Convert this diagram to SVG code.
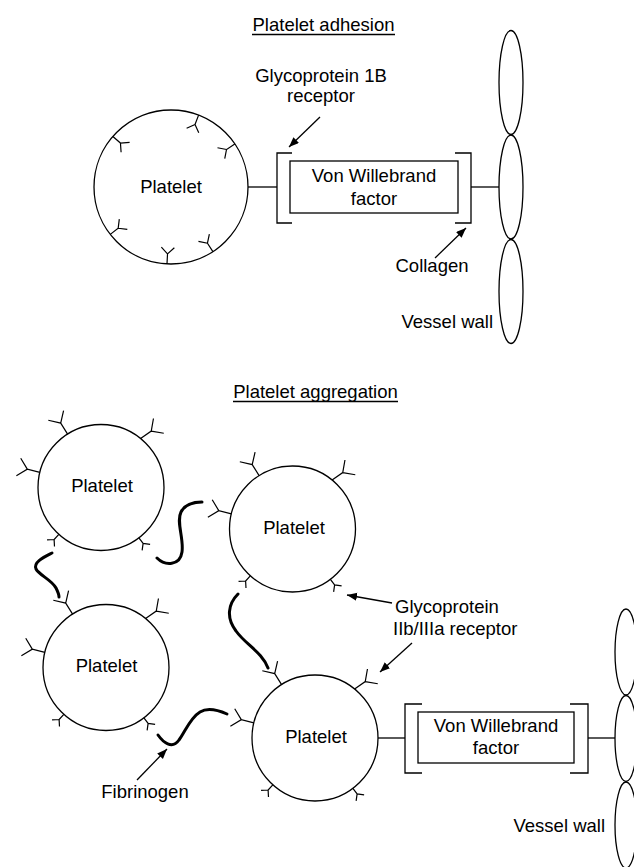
<svg xmlns="http://www.w3.org/2000/svg" xmlns:xlink="http://www.w3.org/1999/xlink" width="634" height="867" viewBox="0 0 634 867">
  <style>
    .ln { fill: none; stroke: #000; stroke-width: 1.3; }
    .cell { fill: #fff; stroke: #000; stroke-width: 1.3; }
    .fib { fill: none; stroke: #000; stroke-width: 3; stroke-linecap: round; }
    .rc { fill: none; stroke: #000; stroke-width: 1.2; }
    .lbl { font-family: "Liberation Sans", Arial, sans-serif; font-size: 18.5px; fill: #000; }
    .mid { text-anchor: middle; }
    .end { text-anchor: end; }
  </style>
  <defs>
    <marker id="ah" markerUnits="userSpaceOnUse" markerWidth="12" markerHeight="10" refX="10" refY="4" orient="auto">
      <path d="M0,0 L10,4 L0,8 Z" fill="#000"/>
    </marker>
    <!-- receptor glyphs: stem along -y, fork at the tip -->
    <path id="rcL" class="rc" d="M0,0 V-13 L-9,-22 M0,-13 L9,-22"/>
    <path id="rcM" class="rc" d="M0,0 V-10 L-6.5,-16.5 M0,-10 L6.5,-16.5"/>
    <path id="rcS" class="rc" d="M0,0 V-7 L-5,-12 M0,-7 L5,-12"/>
  </defs>

  <!-- ===== Platelet adhesion ===== -->
  <g id="title-adhesion">
    <text class="lbl mid" x="323.5" y="31">Platelet adhesion</text>
    <line class="ln" x1="252" y1="34.5" x2="395" y2="34.5"/>
  </g>

  <g id="platelet-a">
    <circle class="cell" cx="171" cy="187" r="77"/>
    <use href="#rcM" transform="translate(198.6,115.1) rotate(-159)"/>
    <use href="#rcM" transform="translate(112.9,136.5) rotate(131)"/>
    <use href="#rcM" transform="translate(234.8,143.9) rotate(-124)"/>
    <use href="#rcM" transform="translate(110.3,234.4) rotate(52)"/>
    <use href="#rcM" transform="translate(167,263.9) rotate(3)"/>
    <use href="#rcM" transform="translate(212.9,251.6) rotate(-33)"/>
    <text class="lbl mid" x="171" y="193">Platelet</text>
  </g>

  <g id="vwf-a">
    <path class="ln" d="M292,153 H277 V223 H292"/>
    <path class="ln" d="M455,153 H471 V223 H455"/>
    <rect class="cell" x="290" y="161" width="168" height="52"/>
    <text class="lbl mid" x="374" y="182">Von Willebrand</text>
    <text class="lbl mid" x="374" y="205">factor</text>
  </g>

  <g id="vessel-a">
    <ellipse class="ln" cx="511" cy="82.5" rx="12" ry="52"/>
    <ellipse class="ln" cx="511" cy="187" rx="12" ry="52"/>
    <ellipse class="ln" cx="511" cy="291.5" rx="12" ry="52"/>
    <text class="lbl end" x="493" y="328">Vessel wall</text>
  </g>

  <g id="label-gp1b">
    <text class="lbl mid" x="321" y="82">Glycoprotein 1B</text>
    <text class="lbl mid" x="321" y="102">receptor</text>
  </g>
  <g id="label-collagen">
    <text class="lbl mid" x="432" y="272">Collagen</text>
  </g>

  <g id="connectors-a">
    <line class="ln" x1="248" y1="187" x2="277" y2="187"/>
    <line class="ln" x1="471" y1="187" x2="499" y2="187"/>
    <line class="ln" x1="320" y1="117" x2="289" y2="147" marker-end="url(#ah)"/>
    <line class="ln" x1="435" y1="258" x2="466" y2="228" marker-end="url(#ah)"/>
  </g>

  <!-- ===== Platelet aggregation ===== -->
  <g id="title-aggregation">
    <text class="lbl mid" x="315.5" y="398">Platelet aggregation</text>
    <line class="ln" x1="233" y1="401.5" x2="398" y2="401.5"/>
  </g>

  <g id="platelet-1">
    <circle class="cell" cx="101" cy="487.5" r="63"/>
    <use href="#rcL" transform="translate(67.6,434.1) rotate(-32)"/>
    <use href="#rcL" transform="translate(140.6,438.5) rotate(55)"/>
    <use href="#rcL" transform="translate(39.9,472.3) rotate(-76)"/>
    <use href="#rcS" transform="translate(58.8,534.3) rotate(222)"/>
    <use href="#rcS" transform="translate(138.9,537.8) rotate(143)"/>
    <text class="lbl mid" x="102" y="492">Platelet</text>
  </g>

  <g id="platelet-2">
    <circle class="cell" cx="292.5" cy="529" r="63"/>
    <use href="#rcL" transform="translate(259.1,475.6) rotate(-32)"/>
    <use href="#rcL" transform="translate(332.1,480) rotate(55)"/>
    <use href="#rcL" transform="translate(231.4,513.8) rotate(-76)"/>
    <use href="#rcS" transform="translate(250.3,575.8) rotate(222)"/>
    <use href="#rcS" transform="translate(330.4,579.3) rotate(143)"/>
    <text class="lbl mid" x="294" y="534">Platelet</text>
  </g>

  <g id="platelet-3">
    <circle class="cell" cx="106" cy="667.5" r="63"/>
    <use href="#rcL" transform="translate(72.6,614.1) rotate(-32)"/>
    <use href="#rcL" transform="translate(145.6,618.5) rotate(55)"/>
    <use href="#rcL" transform="translate(44.9,652.3) rotate(-76)"/>
    <use href="#rcS" transform="translate(63.8,714.3) rotate(222)"/>
    <use href="#rcS" transform="translate(143.9,717.8) rotate(143)"/>
    <text class="lbl mid" x="106.5" y="672">Platelet</text>
  </g>

  <g id="platelet-4">
    <circle class="cell" cx="315" cy="738" r="63"/>
    <use href="#rcL" transform="translate(281.6,684.6) rotate(-32)"/>
    <use href="#rcL" transform="translate(354.6,689) rotate(55)"/>
    <use href="#rcL" transform="translate(253.9,722.8) rotate(-76)"/>
    <use href="#rcS" transform="translate(272.8,784.8) rotate(222)"/>
    <use href="#rcS" transform="translate(352.9,788.3) rotate(143)"/>
    <text class="lbl mid" x="316" y="743">Platelet</text>
  </g>

  <g id="vwf-b">
    <path class="ln" d="M422,704 H405 V773 H422"/>
    <path class="ln" d="M570,704 H588 V773 H570"/>
    <rect class="cell" x="418" y="712" width="156" height="51"/>
    <text class="lbl mid" x="496" y="732">Von Willebrand</text>
    <text class="lbl mid" x="496" y="754">factor</text>
  </g>

  <g id="vessel-b">
    <ellipse class="ln" cx="626" cy="652" rx="11" ry="43"/>
    <ellipse class="ln" cx="626" cy="738.5" rx="11" ry="43"/>
    <ellipse class="ln" cx="626" cy="825" rx="11" ry="43"/>
    <text class="lbl end" x="605" y="832">Vessel wall</text>
  </g>

  <g id="fibrinogen">
    <path class="fib" d="M157,558 C165,566 180,566 182,552 C184,538 176,522 181,512 C185,504 193,502 202,502"/>
    <path class="fib" d="M52,553 C44,557 33,562 36,569 C39,575 52,580 56,588 C58,592 59,595 59,597"/>
    <path class="fib" d="M238,594 C228,604 226,618 236,631 C246,645 262,652 268,668"/>
    <path class="fib" d="M158,735 C163,742 172,750 179,740 C185,732 190,718 200,712 C208,707 218,710 227,714"/>
  </g>

  <g id="label-gp2b3a">
    <text class="lbl" x="395" y="613">Glycoprotein</text>
    <text class="lbl" x="393" y="635">IIb/IIIa receptor</text>
  </g>
  <g id="label-fibrinogen">
    <text class="lbl mid" x="145" y="798">Fibrinogen</text>
  </g>

  <g id="connectors-b">
    <line class="ln" x1="378" y1="738" x2="405" y2="738"/>
    <line class="ln" x1="588" y1="738" x2="615" y2="738"/>
    <line class="ln" x1="392" y1="603" x2="347" y2="595" marker-end="url(#ah)"/>
    <line class="ln" x1="412" y1="643" x2="380" y2="672" marker-end="url(#ah)"/>
    <line class="ln" x1="137" y1="780" x2="167" y2="749" marker-end="url(#ah)"/>
  </g>
</svg>
